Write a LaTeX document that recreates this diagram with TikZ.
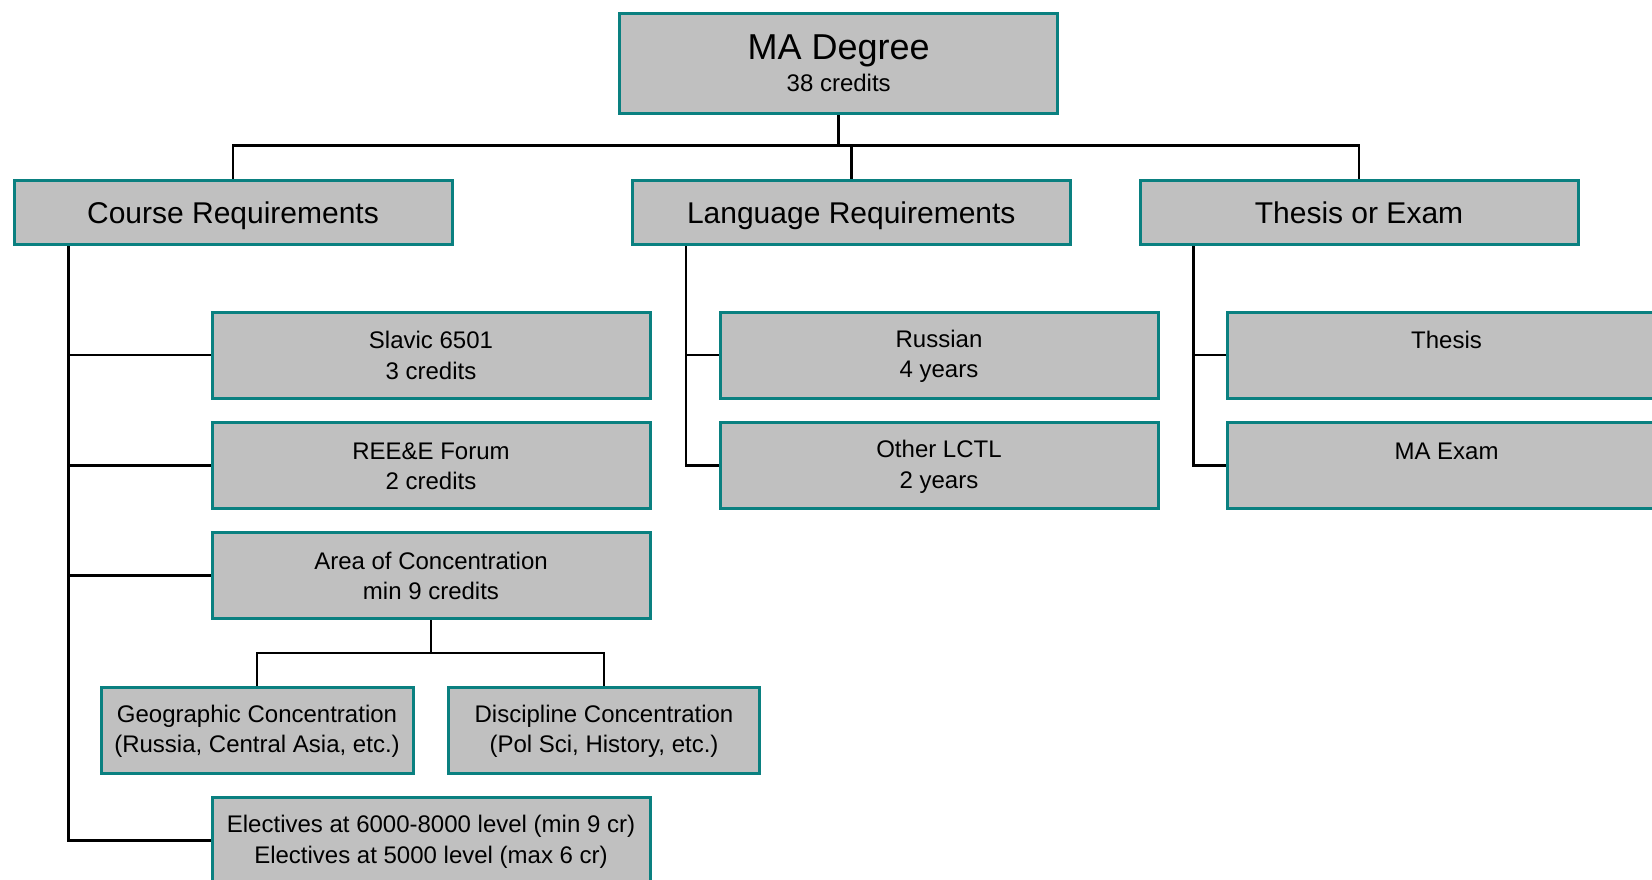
\documentclass[tikz,border=0pt]{standalone}
\usepackage{fontspec}
\setmainfont{Liberation Sans}
\usetikzlibrary{backgrounds}
\definecolor{boxfill}{HTML}{C0C0C0}
\definecolor{boxline}{HTML}{0A8080}
\newcommand{\mystrut}{\rule[-2.5pt]{0pt}{22.5pt}}
\begin{document}
\begin{tikzpicture}[x=1pt,y=-1pt,
  box/.style={draw=boxline, fill=boxfill, line width=3pt, rectangle, inner sep=0pt,
    align=center, text=black, minimum height=86pt, minimum width=438pt,
    font=\fontsize{24}{30.5}\selectfont},
  topbox/.style={box, minimum height=64pt, font=\fontsize{30}{36}\selectfont,
    text height=22pt, text depth=0pt},
  smallbox/.style={box, minimum width=312pt},
  conn/.style={draw=black, line width=2.5pt}]
\useasboundingbox (0,0) rectangle (1652,879);
\clip (0,0) rectangle (1652,879);
% coordinates for buses and spines
\coordinate (topbus) at (838.7,145.4);
\coordinate (cs) at (68.5,244);
\coordinate (ls) at (686,244);
\coordinate (ts) at (1193.7,244);
\coordinate (abus) at (431,653);
% nodes
\node[box, minimum height=99.5pt] (ma) at (838.7,63.3) {{\fontsize{36}{36}\selectfont MA Degree}\\[2pt]{\fontsize{24}{28}\selectfont 38 credits}};
\node[topbox] (course) at (233,212) {Course Requirements};
\node[topbox] (lang) at (851.3,212) {Language Requirements};
\node[topbox] (thesisexam) at (1359,212) {Thesis or Exam};
\node[box] (slavic) at (431,355) {\mystrut Slavic 6501\\\mystrut 3 credits};
\node[box] (reee) at (431,465.5) {\mystrut REE\&E Forum\\\mystrut 2 credits};
\node[box] (area) at (431,575.5) {\mystrut Area of Concentration\\\mystrut min 9 credits};
\node[smallbox] (geo) at (257,730) {\mystrut Geographic Concentration\\\mystrut (Russia, Central Asia, etc.)};
\node[smallbox, minimum width=311pt] (disc) at (604,730) {\mystrut Discipline Concentration\\\mystrut (Pol Sci, History, etc.)};
\node[box] (elect) at (431,840.6) {\mystrut Electives at 6000-8000 level (min 9 cr)\\\mystrut Electives at 5000 level (max 6 cr)};
\node[box] (russian) at (939,355) {\mystrut Russian\\\mystrut 4 years};
\node[box] (lctl) at (939,465.5) {\mystrut Other LCTL\\\mystrut 2 years};
\node[box] (thesis) at (1446.5,355) {\mystrut Thesis\\\mystrut};
\node[box] (maexam) at (1446.5,465.5) {\mystrut MA Exam\\\mystrut};
% connectors (behind boxes)
\begin{scope}[on background layer]
\draw[conn] (ma.south) -- (topbus);
\draw[conn] (course.north) |- (topbus) -| (thesisexam.north);
\draw[conn] (lang.north) -- (lang.north |- topbus);
\draw[conn] (cs) |- (elect.west);
\draw[conn] (slavic.west) -- (slavic.west -| cs);
\draw[conn] (reee.west) -- (reee.west -| cs);
\draw[conn] (area.west) -- (area.west -| cs);
\draw[conn] (area.south) -- (abus);
\draw[conn] (geo.north) |- (abus) -| (disc.north);
\draw[conn] (ls) |- (lctl.west);
\draw[conn] (russian.west) -- (russian.west -| ls);
\draw[conn] (ts) |- (maexam.west);
\draw[conn] (thesis.west) -- (thesis.west -| ts);
\end{scope}
\end{tikzpicture}
\end{document}
